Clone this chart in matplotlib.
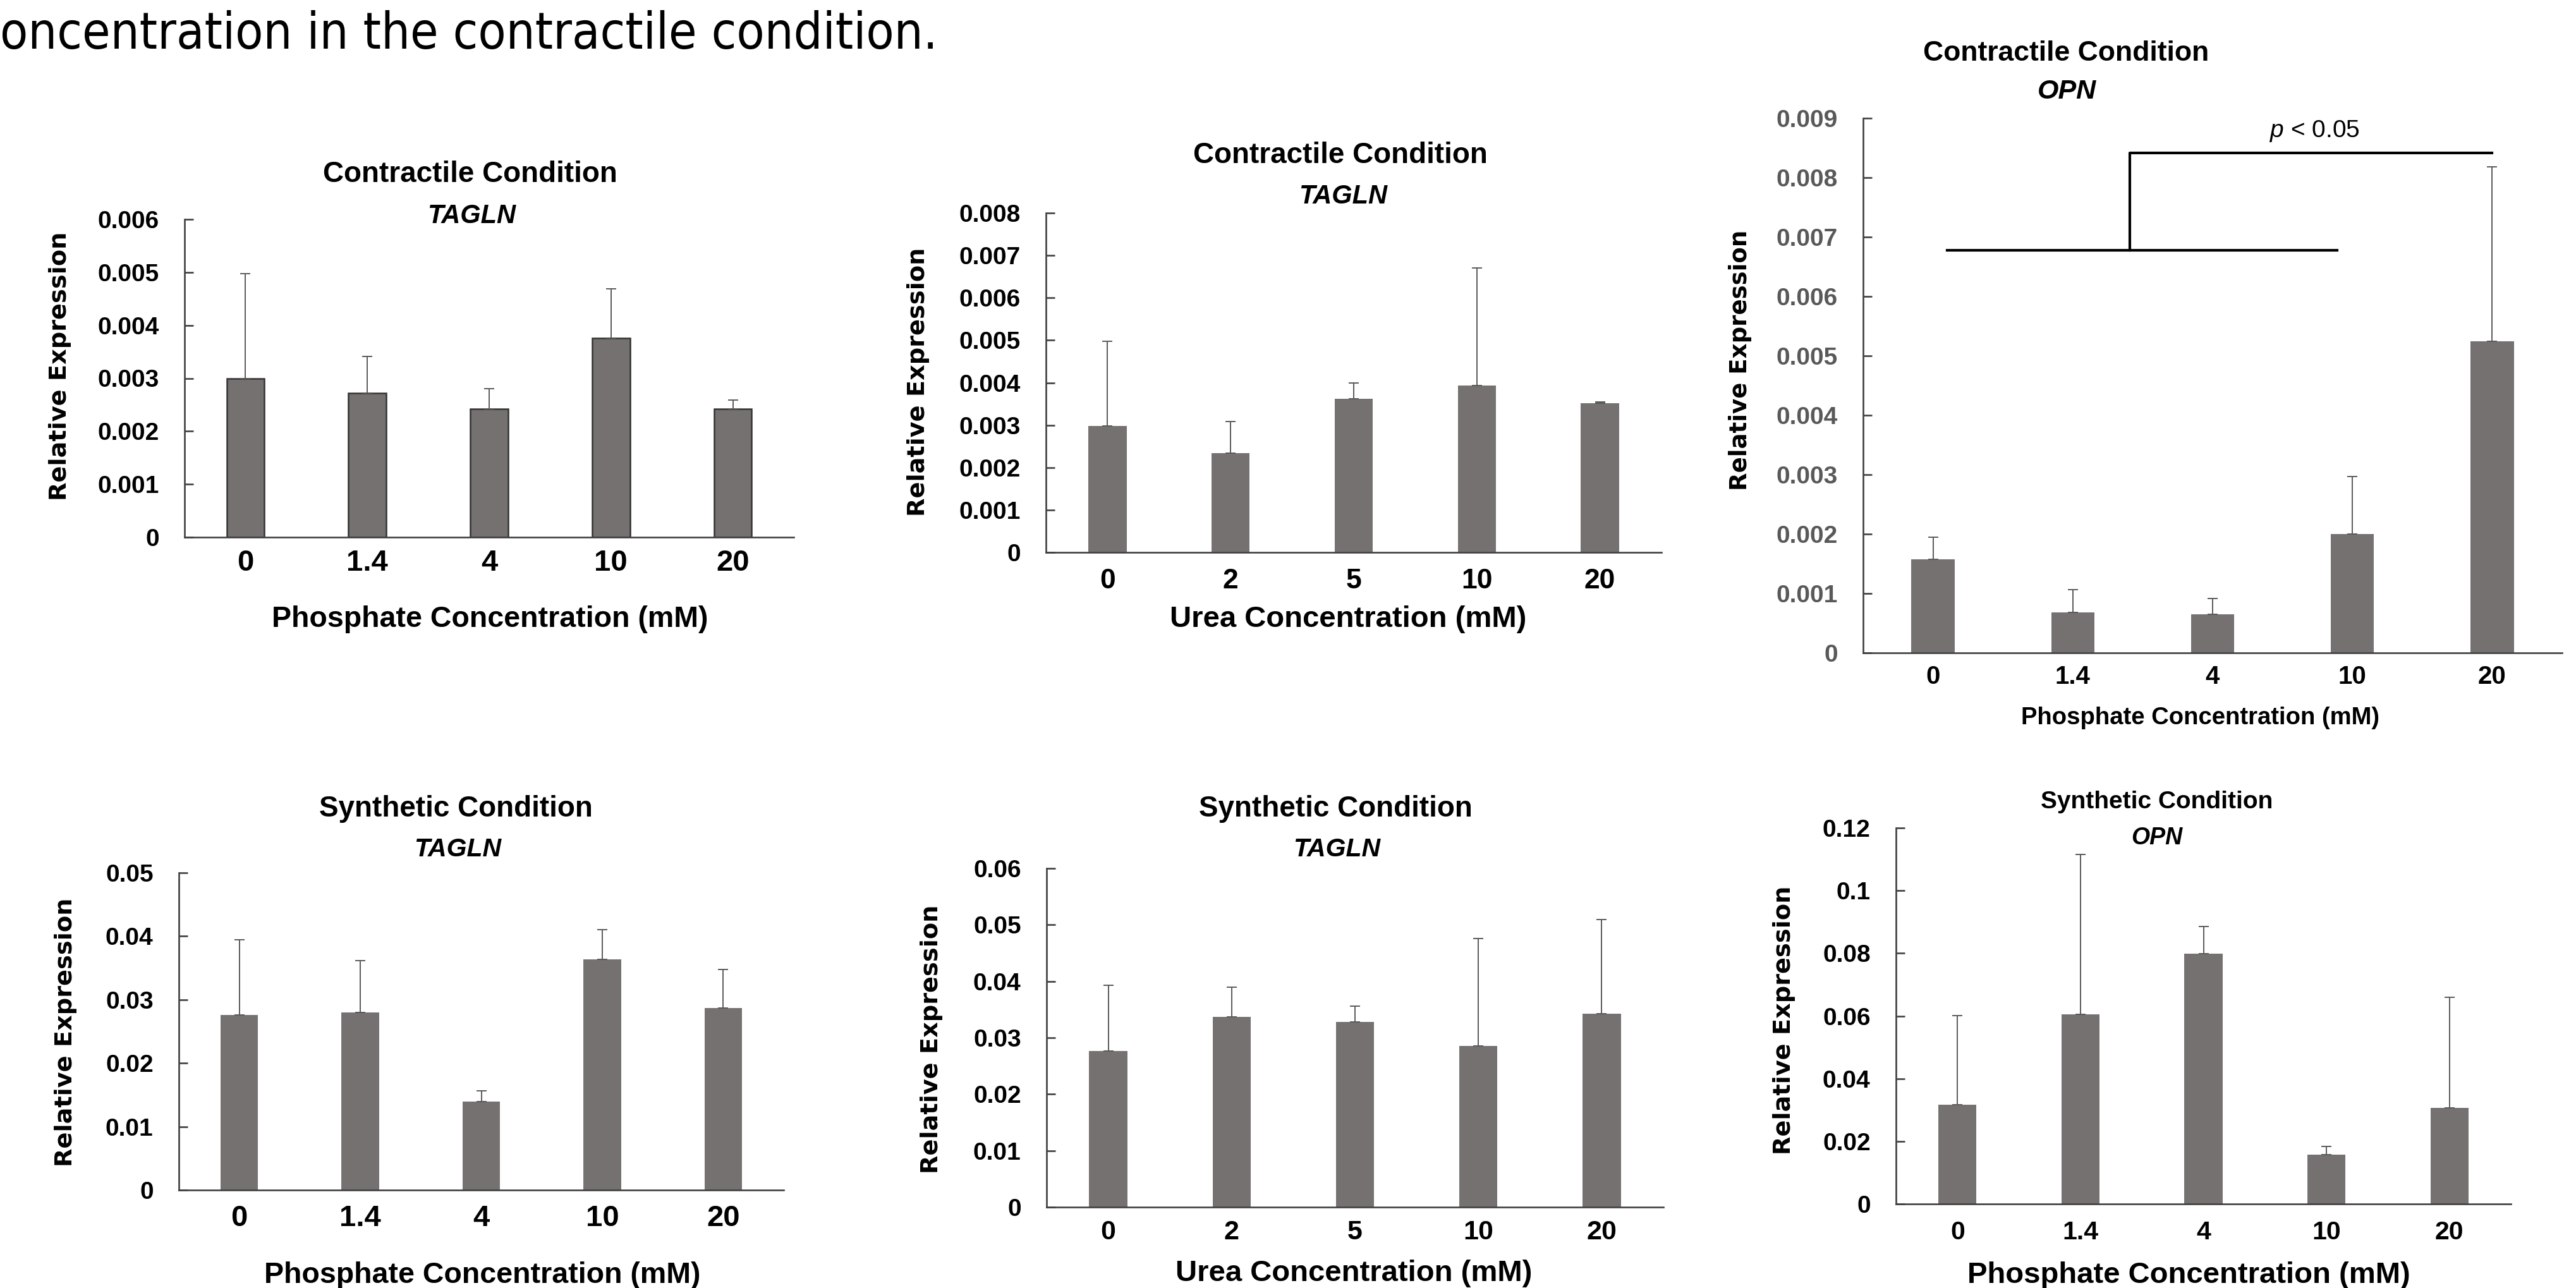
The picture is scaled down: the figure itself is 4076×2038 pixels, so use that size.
import numpy as np
import matplotlib
matplotlib.use('Agg')
import matplotlib.pyplot as plt

W, H, DPI = 4076, 2038, 100

plt.rcParams['font.family'] = ['Liberation Sans', 'DejaVu Sans']
plt.rcParams['mathtext.fontset'] = 'custom'
plt.rcParams['mathtext.it'] = 'Liberation Sans:italic'
plt.rcParams['mathtext.rm'] = 'Liberation Sans'

# concentrations (x categories)
phos_conc = ['0', '1.4', '4', '10', '20']
urea_conc = ['0', '2', '5', '10', '20']

# Contractile condition: mean and SD of relative expression
c_tagln_phos = [0.00300, 0.00272, 0.00242, 0.00376, 0.00242]
c_tagln_phos_sd = [0.00197, 0.00069, 0.00038, 0.00093, 0.00017]
c_tagln_urea = [0.00298, 0.00234, 0.00362, 0.00393, 0.00351]
c_tagln_urea_sd = [0.00200, 0.00074, 0.00038, 0.00277, 0.00003]
c_opn_phos = [0.00157, 0.00068, 0.00065, 0.00200, 0.00524]
c_opn_phos_sd = [0.00038, 0.00038, 0.00027, 0.00097, 0.00294]

# Synthetic condition
s_tagln_phos = [0.0276, 0.0280, 0.0139, 0.0364, 0.0287]
s_tagln_phos_sd = [0.0118, 0.0082, 0.0017, 0.0046, 0.0061]
s_tagln_urea = [0.0276, 0.0337, 0.0328, 0.0285, 0.0342]
s_tagln_urea_sd = [0.0117, 0.0053, 0.0028, 0.0191, 0.0167]
s_opn_phos = [0.0317, 0.0606, 0.0799, 0.0157, 0.0307]
s_opn_phos_sd = [0.0285, 0.0509, 0.0086, 0.0027, 0.0353]

# significance bracket for contractile OPN: 0-10 mM vs 20 mM
sig_group_a = [0, 3]
sig_group_b = 4
sig_low, sig_high = 0.00678, 0.00842
sig_label = '$p$ < 0.05'

caption = 'oncentration in the contractile condition.'

BAR = '#767171'
AXC = '#404040'
ERR = '#595959'

fig = plt.figure(figsize=(W / DPI, H / DPI), dpi=DPI)


def to_ax(box, x, y):
    l, t, r, b = box
    return (x - l) / (r - l), (b - y) / (b - t)


def panel(box, means, sd, cats, ymax, step, title, gene, xlabel,
          title_xy, gene_xy, xlabel_xy, ylabel_xy,
          fs_title=33, fs_gene=30, fs_xtick=32, fs_xlabel=33.5, fs_ylabel=27.5,
          xpad=15, edge=False, ytick_color='black'):
    l, t, r, b = box
    ax = fig.add_axes([l / W, 1 - b / H, (r - l) / W, (b - t) / H])
    x = np.arange(len(cats))
    ax.bar(x, means, width=0.31, color=BAR,
           edgecolor='#333333' if edge else BAR, linewidth=1.8 if edge else 0,
           yerr=[np.zeros(len(sd)), sd],
           error_kw=dict(ecolor=ERR, elinewidth=1.4, capsize=6, capthick=1.4), zorder=2)
    ax.set_xlim(-0.5, len(cats) - 0.5)
    ax.set_ylim(0, ymax)
    ticks = np.round(np.arange(0, ymax + step / 2, step), 4)
    ax.set_yticks(ticks, [f'{v:g}' for v in ticks])
    ax.set_xticks(x, cats)
    for s in ['top', 'right']:
        ax.spines[s].set_visible(False)
    for s in ['left', 'bottom']:
        ax.spines[s].set_color(AXC)
        ax.spines[s].set_linewidth(1.9)
    ax.tick_params(axis='y', direction='in', length=10, width=1.9, color=AXC,
                   pad=29, labelsize=28, labelcolor=ytick_color)
    ax.tick_params(axis='x', length=0, pad=xpad, labelsize=fs_xtick)
    for lab in ax.get_yticklabels() + ax.get_xticklabels():
        lab.set_fontweight('bold')

    tx, ty = to_ax(box, *title_xy)
    ax.text(tx, ty, title, transform=ax.transAxes, ha='center', va='center',
            fontsize=fs_title, fontweight='bold')
    gx, gy = to_ax(box, *gene_xy)
    ax.text(gx, gy, gene, transform=ax.transAxes, ha='center', va='center',
            fontsize=fs_gene, fontweight='bold', style='italic')

    ax.set_xlabel(xlabel, fontsize=fs_xlabel, fontweight='bold')
    ax.xaxis.set_label_coords(*to_ax(box, *xlabel_xy))
    ax.xaxis.label.set_va('center')
    ax.set_ylabel('Relative Expression', fontsize=fs_ylabel, fontweight='bold',
                  family='DejaVu Sans')
    ax.yaxis.set_label_coords(*to_ax(box, *ylabel_xy))
    ax.yaxis.label.set_va('center')
    return ax


# top row: contractile condition
panel((292, 347, 1256, 850), c_tagln_phos, c_tagln_phos_sd, phos_conc, 0.006, 0.001,
      'Contractile Condition', 'TAGLN', 'Phosphate Concentration (mM)',
      (744, 276), (746, 342), (775, 980), (95, 579),
      fs_xtick=34, xpad=14, edge=True)
panel((1655, 337, 2629, 874), c_tagln_urea, c_tagln_urea_sd, urea_conc, 0.008, 0.001,
      'Contractile Condition', 'TAGLN', 'Urea Concentration (mM)',
      (2121, 246), (2125, 311), (2133, 980), (1453, 604),
      fs_xtick=32, fs_xlabel=34, xpad=18)
ax3 = panel((2948, 187, 4054, 1033), c_opn_phos, c_opn_phos_sd, phos_conc, 0.009, 0.001,
            'Contractile Condition', 'OPN', 'Phosphate Concentration (mM)',
            (3269, 84), (3270, 145), (3481, 1136), (2754, 570),
            fs_title=32, fs_gene=31, fs_xtick=29, fs_xlabel=27.5, fs_ylabel=26.7,
            xpad=14, ytick_color='#595959')

# significance bracket
ax3.plot([sig_group_a[0] + 0.1, sig_group_a[1] - 0.11], [sig_low, sig_low],
         color='black', lw=3.0, clip_on=False)
mid = 1.41
ax3.plot([mid, mid, sig_group_b], [sig_low, sig_high, sig_high],
         color='black', lw=3.0, clip_on=False)
ax3.text(2.73, sig_high + 0.00036, sig_label, ha='center', va='center', fontsize=28)

# bottom row: synthetic condition
panel((283, 1381, 1240, 1883), s_tagln_phos, s_tagln_phos_sd, phos_conc, 0.05, 0.01,
      'Synthetic Condition', 'TAGLN', 'Phosphate Concentration (mM)',
      (721, 1280), (724, 1344), (763, 2018), (104, 1633),
      fs_gene=29.5, fs_xtick=34, xpad=16.5)
panel((1656, 1374, 2632, 1910), s_tagln_urea, s_tagln_urea_sd, urea_conc, 0.06, 0.01,
      'Synthetic Condition', 'TAGLN', 'Urea Concentration (mM)',
      (2113, 1280), (2115, 1344), (2142, 2015), (1474, 1644),
      fs_gene=29.5, fs_xtick=31, fs_xlabel=34, xpad=14.4)
panel((3000, 1310, 3973, 1905), s_opn_phos, s_opn_phos_sd, phos_conc, 0.12, 0.02,
      'Synthetic Condition', 'OPN', 'Phosphate Concentration (mM)',
      (3413, 1269), (3413, 1326), (3463, 2018), (2823, 1614),
      fs_title=28, fs_gene=27, fs_xtick=29.5, fs_xlabel=34, xpad=18.7)

fig.text(0, 1 - 77 / H, caption, ha='left', va='baseline', fontsize=58,
         family='DejaVu Sans', fontstretch='condensed')

fig.savefig('out.png', dpi=DPI)
